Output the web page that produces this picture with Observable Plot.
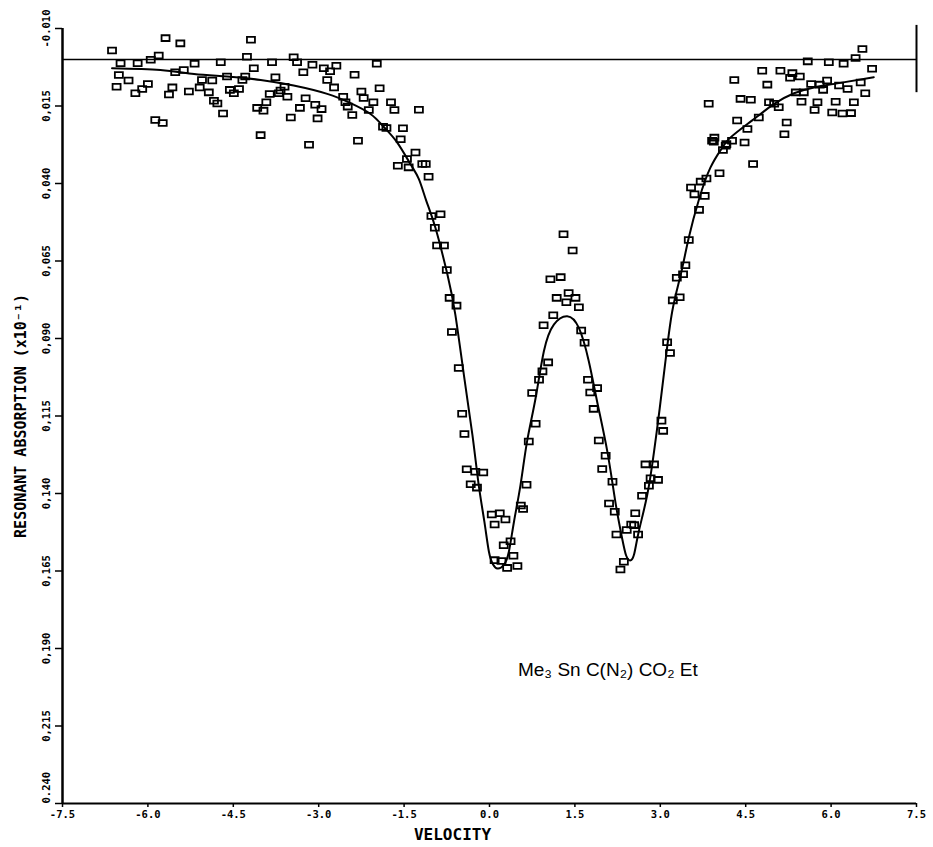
<!DOCTYPE html>
<html><head><meta charset="utf-8">
<script src="https://cdn.jsdelivr.net/npm/d3@7"></script>
<script src="https://cdn.jsdelivr.net/npm/@observablehq/plot@0.6"></script>
<style>body{margin:0;background:#fff}#chart{width:933px;height:847px}</style>
</head><body><div id="chart"></div>
<script>
// ---- data ----
const xTicks = [-7.5, -6.0, -4.5, -3.0, -1.5, 0.0, 1.5, 3.0, 4.5, 6.0, 7.5];
const xTickLabels = ["-7.5", "-6.0", "-4.5", "-3.0", "-1.5", "0.0", "1.5", "3.0", "4.5", "6.0", "7.5"];
const yTicks = [-0.010, 0.015, 0.040, 0.065, 0.090, 0.115, 0.140, 0.165, 0.190, 0.215, 0.240];
const yTickLabels = ["-0.010", "0,015", "0,040", "0,065", "0,090", "0,115", "0,140", "0,165", "0,190", "0,215", "0.240"];
const xLabel = "VELOCITY";
const yLabel = "RESONANT ABSORPTION (x10⁻¹)";
const compound = "Me₃ Sn C(N₂) CO₂ Et";
const compoundAt = {v: 0.5, a: 0.197};
const baselineValue = 0.000;
const markerBar = {x: 7.5, y1: -0.011, y2: 0.0107};

const pointVelocity = [
-6.63,-5.69,-5.43,-4.19,-4.26,-6.48,-6.18,-5.95,-5.81,-6.51,-6.34,-6.55,-6.22,-6.10,-6.00,-5.87,-5.74,-5.52,-5.37,-5.57,
-5.63,-5.28,-5.18,-5.05,-4.87,-5.09,-4.93,-4.84,-4.78,-4.68,-4.72,-4.61,-4.56,-4.49,-4.40,-4.34,-4.29,-4.14,-4.08,-3.97,
-3.92,-3.86,-4.02,-3.82,-3.76,-3.67,-3.60,-3.70,-3.55,-3.49,-3.44,-3.38,-3.33,-3.27,-3.23,-3.17,-3.11,-3.06,-2.95,-3.02,
-2.91,-2.80,-2.85,-2.69,-2.73,-2.57,-2.49,-2.53,-2.41,-2.37,-2.31,-2.25,-2.21,-2.04,-2.12,-1.98,-1.93,-1.87,-1.81,-1.73,
-1.67,-1.52,-1.56,-1.24,-1.30,-1.45,-1.61,-1.42,-1.18,-1.12,-1.07,
-1.02,-0.86,-0.96,-0.92,-0.80,-0.75,-0.70,-0.58,-0.66,-0.54,-0.48,-0.44,-0.40,-0.25,-0.11,-0.33,-0.22,0.04,0.18,0.28,
0.09,0.09,0.21,0.31,0.49,0.25,0.37,0.42,0.55,0.59,0.65,0.69,0.81,0.75,0.87,0.93,1.03,0.95,1.12,1.18,
1.35,1.51,1.39,1.07,1.25,1.30,1.46,1.57,1.61,1.67,1.73,1.77,1.89,1.83,1.92,2.04,1.98,2.16,2.10,2.20,
2.23,2.36,2.30,2.41,2.49,2.54,2.56,2.61,2.68,
2.74,2.89,2.96,2.83,2.80,3.02,3.05,3.12,3.17,3.22,3.34,3.29,3.40,3.44,3.50,3.68,3.60,3.78,3.54,3.71,
3.81,4.04,4.10,4.15,3.94,4.16,4.26,4.48,4.63,3.95,3.91,
3.85,4.41,4.59,4.91,5.00,5.08,5.48,5.76,6.08,6.40,5.71,6.02,6.20,6.35,4.73,4.35,5.22,4.53,5.18,6.55,
6.43,6.72,5.59,5.96,6.22,4.79,5.11,5.32,5.45,5.28,4.30,4.88,5.65,5.80,5.93,5.86,6.14,6.29,6.52,6.60,
5.38,5.52
];
const pointAbsorption = [
-0.0029,-0.0069,-0.0052,-0.0064,-0.0009,0.0012,0.0012,0.0001,-0.0013,0.0050,0.0068,0.0088,0.0109,0.0095,0.0079,0.0195,0.0205,0.0041,0.0034,0.0090,
0.0113,0.0103,0.0014,0.0066,0.0068,0.0090,0.0106,0.0133,0.0142,0.0174,0.0009,0.0055,0.0098,0.0109,0.0095,0.0066,0.0055,0.0028,0.0156,0.0165,
0.0138,0.0111,0.0244,0.0009,0.0057,0.0100,0.0088,0.0109,0.0120,0.0187,-0.0007,0.0009,0.0156,0.0041,0.0125,0.0275,0.0017,0.0146,0.0160,0.0190,
0.0028,0.0038,0.0066,0.0020,0.0090,0.0120,0.0152,0.0138,0.0179,0.0049,0.0262,0.0103,0.0124,0.0138,0.0163,0.0014,0.0093,0.0217,0.0221,0.0138,
0.0163,0.0222,0.0257,0.0162,0.0300,0.0321,0.0343,0.0348,0.0337,0.0337,0.0378,
0.0505,0.0499,0.0543,0.0600,0.0600,0.0679,0.0769,0.0794,0.0879,0.0995,0.1143,0.1208,0.1322,0.1330,0.1332,0.1370,0.1381,0.1468,0.1464,0.1484,
0.1500,0.1615,0.1618,0.1640,0.1634,0.1567,0.1554,0.1601,0.1439,0.1450,0.1372,0.1232,0.1175,0.1076,0.1033,0.1006,0.0977,0.0857,0.0825,0.0769,
0.0783,0.0769,0.0753,0.0709,0.0702,0.0564,0.0616,0.0799,0.0874,0.0914,0.1033,0.1074,0.1060,0.1127,0.1229,0.1278,0.1321,0.1362,0.1432,0.1459,
0.1532,0.1620,0.1645,0.1518,0.1500,0.1502,0.1464,0.1532,0.1407,
0.1306,0.1306,0.1356,0.1351,0.1375,0.1165,0.1198,0.0912,0.0947,0.0777,0.0767,0.0704,0.0693,0.0664,0.0582,0.0485,0.0435,0.0440,0.0413,0.0394,
0.0384,0.0367,0.0292,0.0278,0.0265,0.0273,0.0262,0.0268,0.0337,0.0252,0.0262,
0.0143,0.0127,0.0130,0.0138,0.0143,0.0154,0.0136,0.0138,0.0136,0.0138,0.0163,0.0171,0.0174,0.0173,0.0187,0.0197,0.0203,0.0224,0.0241,-0.0034,
-0.0005,0.0030,0.0006,0.0009,0.0014,0.0036,0.0036,0.0044,0.0055,0.0059,0.0066,0.0081,0.0079,0.0081,0.0068,0.0098,0.0084,0.0095,0.0074,0.0109,
0.0106,0.0106
];

const curveVelocity = [
-6.63,-5.78,-5.19,-4.61,-4.02,-3.44,-2.85,-2.44,-2.09,-1.86,-1.62,-1.39,-1.24,-1.11,-0.95,-0.74,-0.60,-0.45,-0.30,-0.19,
-0.09,-0.01,0.06,0.14,0.25,0.34,0.43,0.545,0.66,0.81,0.955,1.13,1.365,1.57,1.745,1.89,2.07,2.21,2.33,2.40,
2.47,2.54,2.62,2.77,2.89,2.99,3.09,3.21,3.36,3.50,3.68,3.88,4.09,4.23,4.53,4.76,5.00,5.35,5.70,6.11,6.75
];
const curveAbsorption = [
0.0028,0.0034,0.0047,0.0055,0.0066,0.0084,0.0111,0.0141,0.0176,0.0217,0.0268,0.0337,0.0386,0.0456,0.0543,0.0693,0.0823,0.1017,0.1211,0.1372,
0.1491,0.1588,0.1628,0.1642,0.1631,0.1588,0.1491,0.1372,0.1232,0.1092,0.0941,0.0855,0.0828,0.0866,0.0974,0.1103,0.1265,0.1426,0.1545,0.1600,
0.1616,0.1596,0.1524,0.1405,0.1265,0.1125,0.0974,0.0812,0.0693,0.0575,0.0451,0.0349,0.0284,0.0252,0.0208,0.0176,0.0143,0.0109,0.0090,0.0077,0.0057
];

// ---- tables built from the arrays ----
const points = pointVelocity.map((v, i) => ({v, a: pointAbsorption[i]}));
const curve = curveVelocity.map((v, i) => ({v, a: curveAbsorption[i]}));
const xFmt = new Map(xTicks.map((t, i) => [t, xTickLabels[i]]));
const yTickRows = yTicks.map((t, i) => ({t, label: yTickLabels[i]}));
const yTickRowsMid = yTickRows.slice(0, -1);
const yTickRowsEnd = yTickRows.slice(-1);

// small open rectangle, a little wider than tall
const openBox = {
  draw(context, size) {
    const r = Math.sqrt(size / Math.PI);
    const w = r, h = r * 0.72;
    context.moveTo(-w, -h); context.lineTo(w, -h); context.lineTo(w, h); context.lineTo(-w, h); context.closePath();
  }
};

const mono = "'DejaVu Sans Mono', 'Liberation Mono', monospace";

const chart = Plot.plot({
  width: 933, height: 847,
  marginLeft: 62, marginRight: 17, marginTop: 28, marginBottom: 44,
  style: {fontFamily: mono, fontWeight: "bold", background: "#fff", color: "#000"},
  x: {domain: [-7.5, 7.5]},
  y: {domain: [-0.010, 0.240], reverse: true},
  marks: [
    Plot.axisX({ticks: xTicks, tickFormat: d => xFmt.get(d), tickSize: 4, tickPadding: 3, fontSize: 10.5, label: null, strokeWidth: 1.5}),
    Plot.axisY({ticks: yTicks, tickFormat: () => "", tickSize: 7, label: null, strokeWidth: 1.5}),
    Plot.text(yTickRowsMid, {y: "t", text: "label", frameAnchor: "left", dx: -16, rotate: -90, textAnchor: "middle", fontSize: 10.5, fontWeight: "bold"}),
    Plot.text(yTickRowsEnd, {y: "t", text: "label", frameAnchor: "left", dx: -16, rotate: -90, textAnchor: "start", fontSize: 10.5, fontWeight: "bold"}),
    Plot.text([yLabel], {frameAnchor: "left", dx: -41, rotate: -90, textAnchor: "middle", fontSize: 15, fontWeight: "bold"}),
    Plot.text([xLabel], {x: -0.65, frameAnchor: "bottom", dy: 36, fontSize: 16, fontWeight: "bold"}),
    Plot.ruleX([-7.5], {stroke: "#000", strokeWidth: 2.5}),
    Plot.ruleY([0.240], {stroke: "#000", strokeWidth: 2}),
    Plot.ruleY([baselineValue], {stroke: "#000", strokeWidth: 1.6}),
    Plot.ruleX([markerBar], {x: "x", y1: "y1", y2: "y2", stroke: "#000", strokeWidth: 2}),
    Plot.line(curve, {x: "v", y: "a", curve: "natural", stroke: "#000", strokeWidth: 2}),
    Plot.dot(points, {x: "v", y: "a", symbol: openBox, r: 4, stroke: "#000", strokeWidth: 1.8, fill: "none"}),
    Plot.text([compoundAt], {x: "v", y: "a", text: () => compound, textAnchor: "start", fontFamily: "'Liberation Sans', Arial, sans-serif", fontWeight: "normal", fontSize: 19})
  ]
});
document.getElementById("chart").appendChild(chart);
</script>
</body></html>
